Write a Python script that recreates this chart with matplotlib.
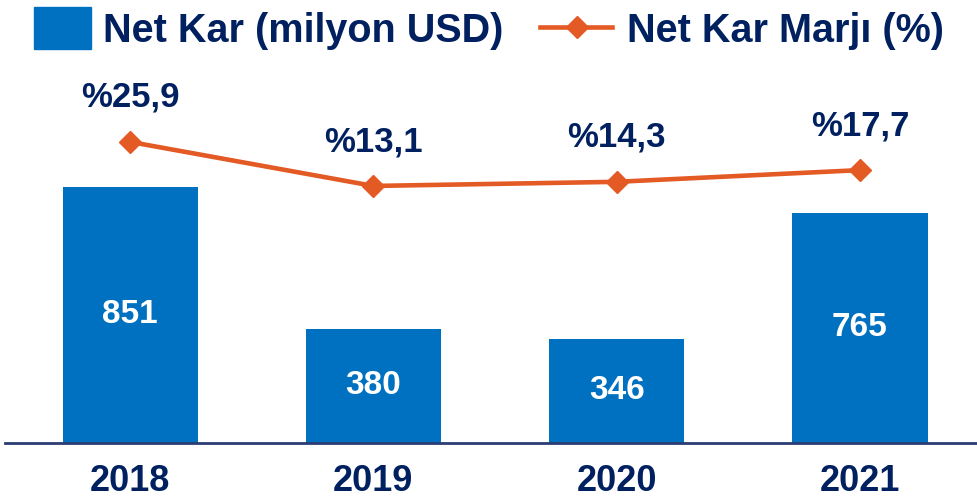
import matplotlib
matplotlib.use("Agg")
from matplotlib import pyplot as plt
from matplotlib.patches import Rectangle
from matplotlib.lines import Line2D

plt.rcParams['font.family'] = ['Liberation Sans', 'DejaVu Sans']
plt.rcParams['font.weight'] = 'bold'

years = ['2018', '2019', '2020', '2021']
net_kar = [851, 380, 346, 765]
kar_marji = [25.9, 13.1, 14.3, 17.7]
marji_labels = ['%25,9', '%13,1', '%14,3', '%17,7']

bar_color = '#0070C0'
line_color = '#E35A25'
text_color = '#002060'

fig = plt.figure(figsize=(9.78, 4.97), dpi=100)
ax = fig.add_axes([5 / 978, 54 / 497, 973 / 978, 383 / 497])
x = list(range(len(years)))

bars = ax.bar(x, net_kar, width=0.555, color=bar_color, zorder=2)
for b, v in zip(bars, net_kar):
    ax.text(b.get_x() + b.get_width() / 2, v / 2, str(v), ha='center', va='center',
            color='white', fontsize=24, fontweight='bold')

ax.set_xlim(-0.514, 3.485)
ax.set_ylim(0, 1272)
ax.set_xticks(x)
ax.set_xticklabels(years, fontsize=26, fontweight='bold', color=text_color)
ax.tick_params(axis='x', length=0, pad=15)
ax.set_yticks([])
for s in ['top', 'right', 'left']:
    ax.spines[s].set_visible(False)
ax.spines['bottom'].set_color('#2A3C72')
ax.spines['bottom'].set_linewidth(2)

ax2 = ax.twinx()
ax2.plot(x, kar_marji, color=line_color, lw=3.3, marker='D', markersize=11, zorder=3)
ax2.set_ylim(-61.6, 49.7)
ax2.axis('off')
for xi, v, lab in zip(x, kar_marji, marji_labels):
    ax2.annotate(lab, (xi, v), xytext=(0, 32), textcoords='offset points',
                 ha='center', va='center', fontsize=25, fontweight='bold', color=text_color)

# legend drawn in figure pixels
fig.add_artist(Rectangle((34 / 978, 1 - 49 / 497), 57 / 978, 42 / 497,
                         transform=fig.transFigure, color=bar_color))
fig.text(103 / 978, 1 - 31 / 497, 'Net Kar (milyon USD)', ha='left', va='center',
         fontsize=28.5, fontweight='bold', color=text_color)
fig.add_artist(Line2D([540 / 978, 612 / 978], [1 - 27 / 497, 1 - 27 / 497],
                      transform=fig.transFigure, color=line_color, lw=3.3))
fig.add_artist(Line2D([577 / 978], [1 - 27 / 497], transform=fig.transFigure,
                      color=line_color, marker='D', markersize=11))
fig.text(627 / 978, 1 - 31 / 497, 'Net Kar Marjı (%)', ha='left', va='center',
         fontsize=28.5, fontweight='bold', color=text_color)

fig.savefig('out.png', dpi=100)
